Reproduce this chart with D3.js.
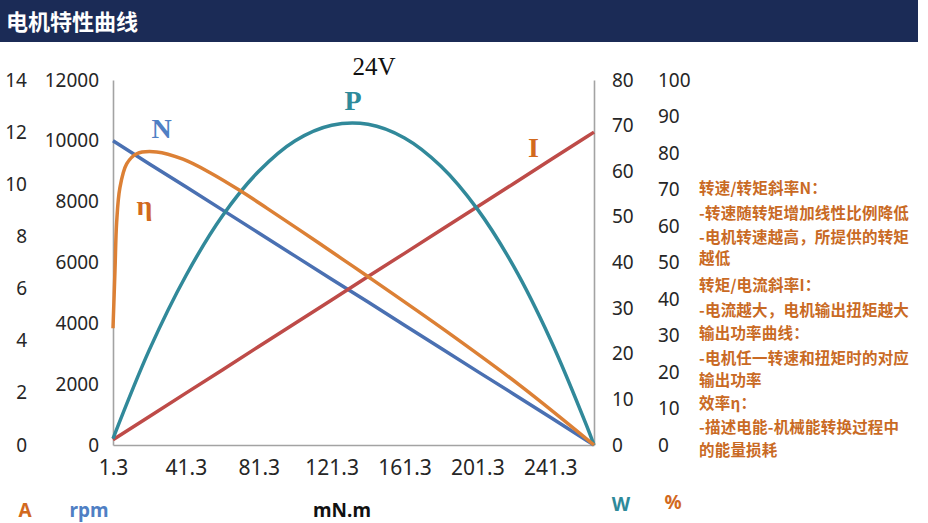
<!DOCTYPE html>
<html lang="zh">
<head>
    <meta charset="UTF-8">
    <title>电机特性曲线</title>
    <script src="https://cdnjs.cloudflare.com/ajax/libs/d3/7.8.5/d3.min.js"></script>
    <style>
        body {
            margin: 0;
            background-color: white;
        }

        #chart svg {
            display: block;
        }

        .tick text {
            font-family: "Noto Sans", sans-serif;
            fill: #262626;
        }

        .note {
            font-family: "Noto Sans CJK SC", sans-serif;
            font-weight: bold;
            font-size: 15.5px;
            letter-spacing: 0.2px;
            fill: #c96a24;
        }

        .tag {
            font-family: "Liberation Serif", "Times New Roman", serif;
            font-weight: bold;
            font-size: 28px;
        }

        .unit {
            font-family: "Noto Sans", sans-serif;
            font-weight: bold;
            font-size: 19px;
        }
    </style>
</head>
<body>
<div id="chart"></div>
<script>
    // torque (mN.m) at which N, I and P were read
    const torque = [1.3, 21.3, 41.3, 61.3, 81.3, 101.3, 121.3, 141.3, 161.3, 181.3, 201.3, 221.3, 241.3, 261.3, 265.3];
    const speed = [10000, 9240, 8490, 7730, 6970, 6210, 5450, 4700, 3940, 3180, 2420, 1670, 910, 150, 0];
    const current = [0.2, 1.09, 1.99, 2.88, 3.78, 4.67, 5.56, 6.46, 7.35, 8.25, 9.14, 10.03, 10.93, 11.82, 12.0];
    const power = [1.4, 20.9, 37.1, 50.2, 60.0, 66.7, 70.1, 70.3, 67.3, 61.1, 51.7, 39.1, 23.2, 4.2, 0];

    // efficiency needs more points near the start
    const effTorque = [1.3, 2.4, 3.3, 5.1, 8.8, 14.3, 25.3, 39.7, 54.6, 71, 85.7, 104, 127.6, 140.8, 184.7, 225, 265.3];
    const efficiency = [32, 48, 61, 70.5, 77, 79.8, 80.3, 78.3, 74.6, 69.7, 64.9, 58.8, 50.8, 46.3, 31, 16.2, 0];

    const torqueTicks = [1.3, 41.3, 81.3, 121.3, 161.3, 201.3, 241.3];
    const currentTicks = [0, 2, 4, 6, 8, 10, 12, 14];
    const speedTicks = [0, 2000, 4000, 6000, 8000, 10000, 12000];
    const powerTicks = [0, 10, 20, 30, 40, 50, 60, 70, 80];
    const percentTicks = [0, 10, 20, 30, 40, 50, 60, 70, 80, 90, 100];

    const notes = [
        '转速/转矩斜率N：',
        '-转速随转矩增加线性比例降低',
        '-电机转速越高，所提供的转矩',
        '越低',
        '转矩/电流斜率I：',
        '-电流越大，电机输出扭矩越大',
        '输出功率曲线：',
        '-电机任一转速和扭矩时的对应',
        '输出功率',
        '效率η：',
        '-描述电能-机械能转换过程中',
        '的能量损耗'
    ];
    const noteY = [194, 219, 243, 264, 291, 316, 339, 364, 386, 409, 433, 456];

    function onLoad() {
        const width = 928;
        const height = 523;
        const left = 113, right = 594, top = 80, bottom = 445;

        const svg = d3.select('#chart')
            .append('svg')
            .attr('width', width)
            .attr('height', height);

        // header bar
        svg.append('rect')
            .attr('x', 0).attr('y', 0)
            .attr('width', 918).attr('height', 42)
            .attr('fill', '#1b2b56');
        svg.append('text')
            .attr('x', 6).attr('y', 30)
            .attr('fill', 'white')
            .style('font-family', '"Noto Sans CJK SC", sans-serif')
            .style('font-weight', 'bold')
            .style('font-size', '22px')
            .text('电机特性曲线');

        const x = d3.scaleLinear().domain([1.3, 265.3]).range([left, right]);
        const yA = d3.scaleLinear().domain([0, 14]).range([bottom, top]);
        const yRpm = d3.scaleLinear().domain([0, 12000]).range([bottom, top]);
        const yW = d3.scaleLinear().domain([0, 80]).range([bottom, top]);
        const yPct = d3.scaleLinear().domain([0, 100]).range([bottom, top]);

        const styleAxis = (g, size, keepDomain) => {
            g.selectAll('.tick text').style('font-size', size + 'px');
            g.selectAll('.tick line').remove();
            if (keepDomain) {
                g.select('.domain').attr('stroke', '#a3a3a3').attr('stroke-width', 1.6);
            } else {
                g.select('.domain').remove();
            }
        };

        svg.append('g')
            .attr('transform', `translate(27, 0)`)
            .call(d3.axisLeft(yA).tickValues(currentTicks).tickSize(0).tickPadding(0))
            .call(g => styleAxis(g, 19, false));

        svg.append('g')
            .attr('transform', `translate(${left}, 0)`)
            .call(d3.axisLeft(yRpm).tickValues(speedTicks).tickSize(0).tickSizeOuter(0).tickPadding(14)
                .tickFormat(d3.format('d')))
            .call(g => styleAxis(g, 19, true));

        svg.append('g')
            .attr('transform', `translate(${right}, 0)`)
            .call(d3.axisRight(yW).tickValues(powerTicks).tickSize(0).tickSizeOuter(0).tickPadding(18))
            .call(g => styleAxis(g, 19, true));

        svg.append('g')
            .attr('transform', `translate(658, 0)`)
            .call(d3.axisRight(yPct).tickValues(percentTicks).tickSize(0).tickPadding(0))
            .call(g => styleAxis(g, 19, false));

        svg.append('g')
            .attr('transform', `translate(0, ${bottom})`)
            .call(d3.axisBottom(x).tickValues(torqueTicks).tickSize(0).tickSizeOuter(0).tickPadding(15)
                .tickFormat(d => d.toFixed(1)))
            .call(g => styleAxis(g, 21, true));

        const smooth = d3.curveCatmullRom.alpha(0.5);
        const series = [
            {xs: torque, ys: speed, y: yRpm, color: '#4a70b2', curve: d3.curveLinear},
            {xs: torque, ys: current, y: yA, color: '#be4b48', curve: d3.curveLinear},
            {xs: torque, ys: power, y: yW, color: '#31899a', curve: smooth},
            {xs: effTorque, ys: efficiency, y: yPct, color: '#dc8035', curve: smooth}
        ];

        series.forEach(s => {
            const line = d3.line()
                .x((d, i) => x(s.xs[i]))
                .y(d => s.y(d))
                .curve(s.curve);
            svg.append('path')
                .datum(s.ys)
                .attr('fill', 'none')
                .attr('stroke', s.color)
                .attr('stroke-width', 3.5)
                .attr('d', line);
        });

        // curve names
        const tags = [
            {t: 'N', x: x(28), y: yRpm(10090), color: '#4f7fc4'},
            {t: 'P', x: x(133), y: yW(73.5), color: '#2e8a9a'},
            {t: 'I', x: x(232), y: yA(11.05), color: '#d2691e'},
            {t: 'η', x: x(18.5), y: yPct(63), color: '#d2691e'}
        ];
        svg.selectAll('.tag')
            .data(tags)
            .enter()
            .append('text')
            .attr('class', 'tag')
            .attr('x', d => d.x)
            .attr('y', d => d.y)
            .attr('text-anchor', 'middle')
            .attr('fill', d => d.color)
            .text(d => d.t);

        svg.append('text')
            .attr('x', 374).attr('y', 75)
            .attr('text-anchor', 'middle')
            .style('font-family', '"Liberation Serif", serif')
            .style('font-size', '25px')
            .attr('fill', '#111')
            .text('24V');

        svg.selectAll('.note')
            .data(notes)
            .enter()
            .append('text')
            .attr('class', 'note')
            .attr('x', 699)
            .attr('y', (d, i) => noteY[i])
            .text(d => d);

        // unit labels
        const units = [
            {t: 'A', x: 25, y: 517, color: '#d2691e'},
            {t: 'rpm', x: 89, y: 517, color: '#4f7fc4'},
            {t: 'mN.m', x: 342, y: 517, color: '#111'},
            {t: 'W', x: 621, y: 511, color: '#2e8a9a'},
            {t: '%', x: 673, y: 509, color: '#d2691e'}
        ];
        svg.selectAll('.unit')
            .data(units)
            .enter()
            .append('text')
            .attr('class', 'unit')
            .attr('x', d => d.x)
            .attr('y', d => d.y)
            .attr('text-anchor', 'middle')
            .attr('fill', d => d.color)
            .text(d => d.t);
    }

    document.addEventListener('DOMContentLoaded', onLoad);
</script>
</body>
</html>
